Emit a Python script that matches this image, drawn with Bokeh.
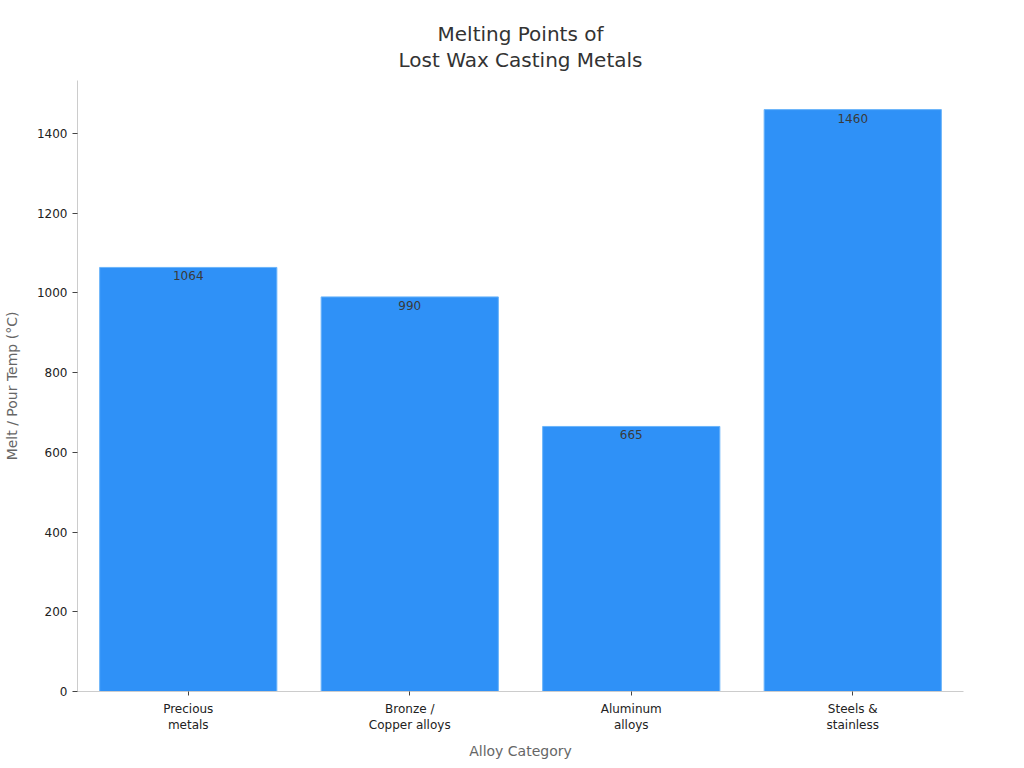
from bokeh.plotting import figure
from bokeh.models import ColumnDataSource, Range1d, FactorRange, FixedTicker, Title
from bokeh.embed import file_html
from bokeh.resources import INLINE

categories = ["Precious\nmetals", "Bronze /\nCopper alloys", "Aluminum\nalloys", "Steels &\nstainless"]
temps = [1064, 990, 665, 1460]
labels = [str(v) for v in temps]
y_ticks = [0, 200, 400, 600, 800, 1000, 1200, 1400]
title_lines = ["Melting Points of", "Lost Wax Casting Metals"]

FONT = "DejaVu Sans"

source = ColumnDataSource(data=dict(cat=categories, temp=temps, label=labels))

p = figure(
    width=1008, height=762,
    x_range=FactorRange(*categories, range_padding=0),
    y_range=Range1d(0, 1533),
    output_backend="svg", toolbar_location=None,
    min_border_left=71, min_border_right=45, min_border_top=80, min_border_bottom=62,
)
p.title = None
# spacer between the frame and the two title lines
p.add_layout(Title(text=" ", text_font=FONT, text_font_size="4px", standoff=2, offset=0), "above")
for line in reversed(title_lines):
    p.add_layout(Title(text=line, align="center", text_font=FONT, text_font_size="20px",
                       text_font_style="normal", text_color="#333333",
                       standoff=0, offset=0), "above")

p.vbar(x="cat", top="temp", width=0.8, source=source,
       fill_color="#2F91F7", line_color="#6AB4FA", line_width=1)

p.text(x="cat", y="temp", text="label", source=source,
       text_align="center", text_baseline="top", y_offset=4,
       text_font_size="12px", text_color="#3A3A3A", text_font={"value": FONT})

p.xgrid.visible = False
p.ygrid.visible = False
p.outline_line_color = None

p.yaxis.ticker = FixedTicker(ticks=y_ticks)
p.yaxis.minor_tick_line_color = None
p.yaxis.major_tick_in = 0
p.yaxis.major_tick_out = 5
p.yaxis.axis_line_color = "#CCCCCC"
p.yaxis.major_tick_line_color = "#444444"
p.yaxis.major_label_text_font = FONT
p.yaxis.major_label_text_font_size = "12px"
p.yaxis.major_label_text_color = "#222222"
p.yaxis.axis_label = "Melt / Pour Temp (°C)"
p.yaxis.axis_label_text_font = FONT
p.yaxis.axis_label_text_font_size = "14px"
p.yaxis.axis_label_text_font_style = "normal"
p.yaxis.axis_label_text_color = "#666666"
p.yaxis.axis_label_standoff = 14

p.xaxis.axis_line_color = "#CCCCCC"
p.xaxis.major_tick_line_color = "#444444"
p.xaxis.major_tick_in = 0
p.xaxis.major_tick_out = 4
p.xaxis.major_label_standoff = 6
p.xaxis.major_label_text_font = FONT
p.xaxis.major_label_text_font_size = "12px"
p.xaxis.major_label_text_color = "#222222"
p.xaxis.axis_label = "Alloy Category"
p.xaxis.axis_label_text_font = FONT
p.xaxis.axis_label_text_font_size = "14px"
p.xaxis.axis_label_text_font_style = "normal"
p.xaxis.axis_label_text_color = "#666666"
p.xaxis.axis_label_standoff = 8

open("out.html", "w").write(file_html(p, INLINE))
